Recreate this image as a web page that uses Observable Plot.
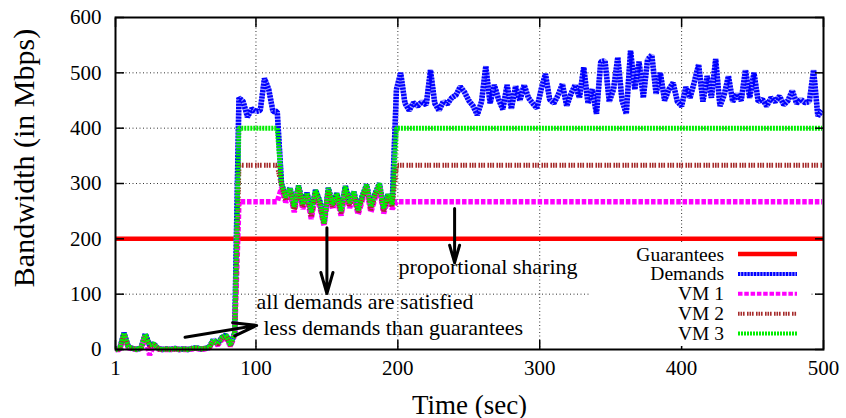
<!DOCTYPE html>
<html><head><meta charset="utf-8">
<script src="https://cdn.jsdelivr.net/npm/d3@7"></script>
<script src="https://cdn.jsdelivr.net/npm/@observablehq/plot@0.6"></script>
<style>
body{margin:0;background:#fff}
svg{display:block}
#chart svg, #chart svg text{font-family:"Liberation Serif","Times New Roman",serif !important}
</style>
</head><body><div id="chart"></div>
<script>
// ---------- data ----------
const time = [
  1,4,7,10,13,16,19,22,25,28,
  31,34,37,40,43,46,49,52,55,58,
  61,64,67,70,73,76,79,82,85,88,
  91,94,97,100,103,106,109,112,115,118,
  121,124,127,130,133,136,139,142,145,148,
  151,154,157,160,163,166,169,172,175,178,
  181,184,187,190,193,196,199,202,205,208,
  211,214,217,220,223,226,229,232,235,238,
  241,244,247,250,253,256,259,262,265,268,
  271,274,277,280,283,286,289,292,295,298,
  301,304,307,310,313,316,319,322,325,328,
  331,334,337,340,343,346,349,352,355,358,
  361,364,367,370,373,376,379,382,385,388,
  391,394,397,400,403,406,409,412,415,418,
  421,424,427,430,433,436,439,442,445,448,
  451,454,457,460,463,466,469,472,475,478,
  481,484,487,490,493,496,499
];
const demands = [
  0,2,30,5,2,0,3,28,8,10,
  2,0,1,0,2,0,1,0,2,3,
  1,2,4,18,10,22,26,8,30,455,
  448,420,435,430,432,490,470,430,430,300,
  275,292,258,296,262,283,248,288,268,228,
  292,262,282,250,295,265,285,252,278,298,
  258,282,300,255,280,262,470,500,445,432,
  446,440,448,442,505,445,432,448,444,455,
  460,475,465,450,440,424,448,512,445,478,
  452,434,478,435,476,450,478,455,445,436,
  470,498,452,445,460,480,440,462,478,455,
  510,445,470,426,520,522,448,470,528,450,
  426,540,470,520,455,524,532,462,500,450,
  470,482,448,440,474,455,484,515,448,494,
  455,525,440,460,494,448,462,450,505,455,
  500,448,452,440,455,448,458,442,450,468,
  445,452,446,448,505,422,432
];
const vmTime = [
  1,4,7,10,13,16,19,22,25,28,
  31,34,37,40,43,46,49,52,55,58,
  61,64,67,70,73,76,79,82,85,
  88,115,
  118,121,124,127,130,133,136,139,142,145,148,151,154,157,160,163,166,169,172,175,178,181,184,187,190,193,196,
  199,499
];
const vm1 = [
  0,0,26,3,1,0,2,24,-10,8,
  1,0,0,0,1,0,0,0,1,2,
  0,1,3,14,8,18,22,6,26,
  267,267,
  292,266,284,248,288,254,276,236,280,258,224,284,254,274,242,286,256,276,244,270,290,248,274,292,246,272,254,
  267,267
];
const vm2 = [
  0,1,28,4,2,0,2,26,6,9,
  1,0,1,0,1,0,1,0,2,2,
  1,2,3,16,9,20,24,7,28,
  333,333,
  296,270,288,252,292,258,280,240,284,262,226,288,258,278,246,290,260,280,248,274,294,252,278,296,250,276,258,
  333,333
];
const vm3 = [
  0,2,30,5,2,0,3,28,8,10,
  2,0,1,0,2,0,1,0,2,3,
  1,2,4,18,10,22,26,8,30,
  400,400,
  300,275,292,258,296,262,283,248,288,268,228,292,262,282,250,295,265,285,252,278,298,258,282,300,255,280,262,
  400,400
];
const guaranteeTime = [1, 500];
const guarantees = [200, 200];

const xTicks = [1, 100, 200, 300, 400, 500];
const yTicks = [0, 100, 200, 300, 400, 500, 600];
const xGrid = [100, 200, 300, 400];
const yGrid = [100, 200, 300, 400, 500];

const seriesNames = ["Guarantees", "Demands", "VM 1", "VM 2", "VM 3"];
const xLabel = "Time (sec)";
const yLabel = "Bandwidth (in Mbps)";
const notes = [
  {text: "proportional sharing", x: 200.5, y: 137},
  {text: "all demands are satisfied", x: 100.4, y: 74},
  {text: "less demands than guarantees", x: 105.3, y: 27}
];
const arrows = [
  {x1: 240, y1: 255, x2: 240, y2: 157},
  {x1: 150, y1: 220, x2: 150, y2: 101},
  {x1: 50, y1: 22, x2: 100.5, y2: 43.5}
];

// ---------- styles ----------
const FONT = "'Liberation Serif', 'Times New Roman', serif";
const styles = [
  {stroke: "#ff0000", strokeWidth: 4.5, strokeDasharray: null},
  {stroke: "#0000ff", strokeWidth: 5.5, strokeDasharray: "2,1.2", under: "#9a9aff"},
  {stroke: "#ff00ff", strokeWidth: 5.5, strokeDasharray: "4.5,1.8"},
  {stroke: "#a52a2a", strokeWidth: 5, strokeDasharray: "1.6,0.9,1.6,0.9,1.6,2.4"},
  {stroke: "#00ee00", strokeWidth: 5, strokeDasharray: "2,1"}
];

const toRows = (ts, vs) => ts.map((t, i) => ({t, v: vs[i]}));
const seriesData = [
  toRows(guaranteeTime, guarantees),
  toRows(time, demands),
  toRows(vmTime, vm1),
  toRows(vmTime, vm2),
  toRows(vmTime, vm3)
];

const lineMarks = [];
seriesData.forEach((rows, i) => {
  const s = styles[i];
  if (s.under) lineMarks.push(Plot.line(rows, {x: "t", y: "v", stroke: s.under, strokeWidth: s.strokeWidth, strokeLinecap: "butt", strokeLinejoin: "miter"}));
  lineMarks.push(Plot.line(rows, {x: "t", y: "v", stroke: s.stroke, strokeWidth: s.strokeWidth,
    strokeDasharray: s.strokeDasharray, strokeLinecap: "butt", strokeLinejoin: "miter"}));
});

const chart = Plot.plot({
  width: 846, height: 418,
  marginLeft: 115, marginRight: 23, marginTop: 17, marginBottom: 69,
  x: {domain: [1, 500], axis: null, label: null},
  y: {domain: [0, 600], axis: null, label: null},
  style: {fontFamily: FONT, background: "white", color: "black", overflow: "visible"},
  marks: [
    Plot.gridX(xGrid, {stroke: "#333", strokeOpacity: 1, strokeWidth: 1, strokeDasharray: "1,2.5"}),
    Plot.gridY(yGrid, {stroke: "#333", strokeOpacity: 1, strokeWidth: 1, strokeDasharray: "1,2.5"}),
    ...lineMarks,
    Plot.arrow(arrows, {x1: "x1", y1: "y1", x2: "x2", y2: "y2", stroke: "black", strokeWidth: 3, headLength: 14, headAngle: 32}),
    Plot.text(notes, {x: "x", y: "y", text: "text", textAnchor: "start", lineAnchor: "bottom", fontSize: 22, fill: "black"}),
    Plot.frame({stroke: "black", strokeWidth: 2}),
    Plot.axisX(xTicks, {anchor: "bottom", tickSize: -9, strokeWidth: 1.5, fill: "none", label: null}),
    Plot.axisX(xTicks, {anchor: "top", tickSize: -9, strokeWidth: 1.5, fill: "none", label: null}),
    Plot.axisY(yTicks, {anchor: "left", tickSize: -9, strokeWidth: 1.5, fill: "none", label: null}),
    Plot.axisY(yTicks, {anchor: "right", tickSize: -9, strokeWidth: 1.5, fill: "none", label: null}),
    Plot.axisX(xTicks, {anchor: "bottom", tickSize: 0, tickPadding: 11, fontSize: 21, label: null}),
    Plot.axisY(yTicks, {anchor: "left", tickSize: 0, tickPadding: 14, fontSize: 21, label: null}),
    Plot.text([xLabel], {frameAnchor: "bottom", dy: 64, lineAnchor: "bottom", fontSize: 27, fill: "black"})
  ]
});
document.getElementById("chart").appendChild(chart);

const svg = d3.select(chart);
// rotated y-axis title
svg.append("text")
  .attr("transform", "translate(34,158) rotate(-90)")
  .attr("text-anchor", "middle")
  .attr("font-family", FONT).attr("font-size", 30).attr("fill", "black")
  .text(yLabel);

// ---------- legend (opaque key box like gnuplot) ----------
const key = svg.append("g").attr("font-family", FONT).attr("font-size", 19.5);
key.append("rect").attr("x", 590).attr("y", 244).attr("width", 220).attr("height", 102).attr("fill", "white");
seriesNames.forEach((name, i) => {
  const yy = 254 + i * 19.9;
  const s = styles[i];
  key.append("text").attr("x", 724).attr("y", yy + 6.5).attr("text-anchor", "end").attr("fill", "black").text(name);
  if (s.under) key.append("line").attr("x1", 738).attr("x2", 797).attr("y1", yy).attr("y2", yy)
    .attr("stroke", s.under).attr("stroke-width", 4);
  key.append("line").attr("x1", 738).attr("x2", 797).attr("y1", yy).attr("y2", yy)
    .attr("stroke", s.stroke).attr("stroke-width", i === 0 ? 4.5 : 4)
    .attr("stroke-dasharray", s.strokeDasharray).attr("stroke-linecap", "butt");
});
</script></body></html>
